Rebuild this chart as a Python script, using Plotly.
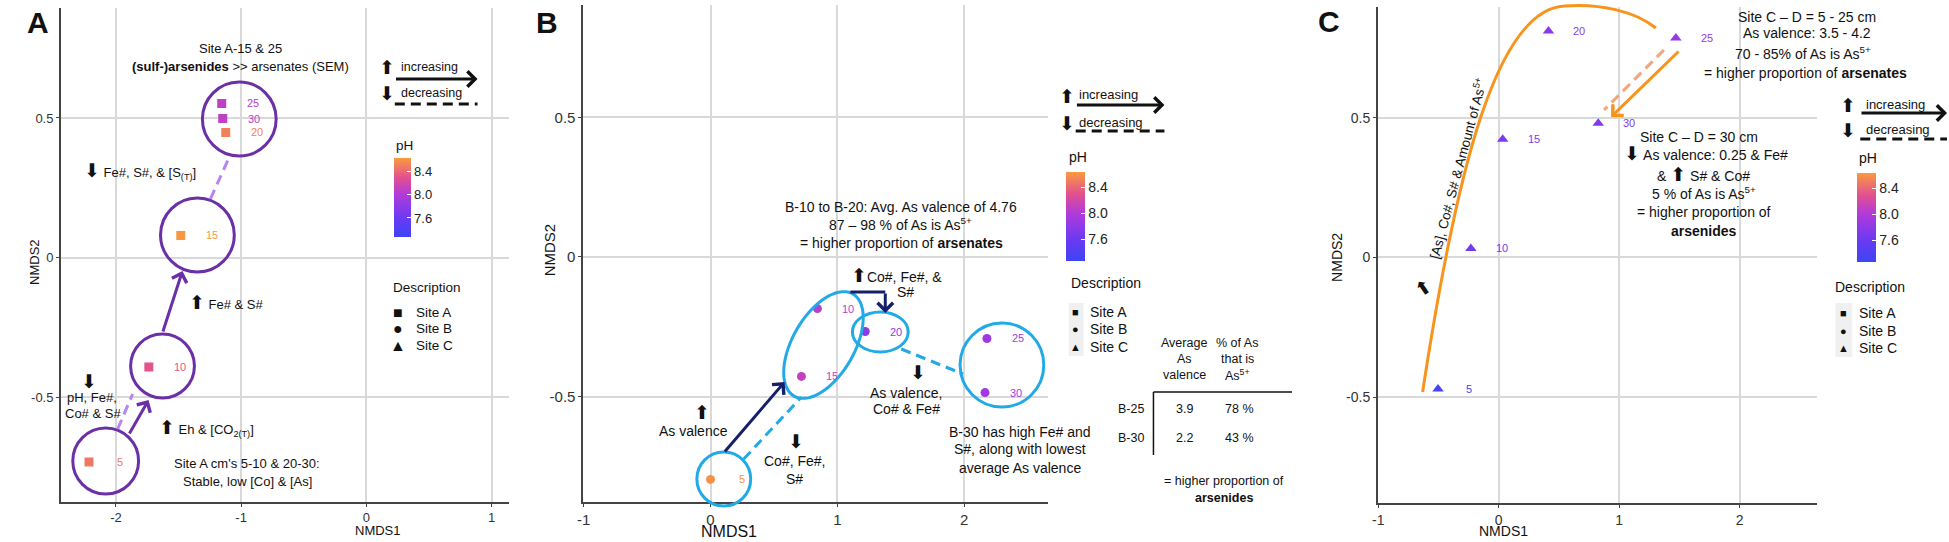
import math
import plotly.graph_objects as go
from plotly.colors import sample_colorscale

W, H = 1949, 542
FONT = "Liberation Sans, Arial, DejaVu Sans, sans-serif"
INK = "#111111"

# ---- values ----
depth_labels = ["5", "10", "15", "20", "25", "30"]

site_a_nmds1 = [-2.215, -1.737, -1.482, -1.123, -1.155, -1.147]
site_a_nmds2 = [-0.733, -0.392, 0.079, 0.448, 0.552, 0.498]
site_a_ph = [8.48, 8.32, 8.62, 8.52, 8.08, 8.08]

site_b_nmds1 = [0.0, 0.843, 0.717, 1.22, 2.18, 2.165]
site_b_nmds2 = [-0.797, -0.185, -0.428, -0.267, -0.292, -0.486]
site_b_ph = [8.6, 8.05, 8.12, 7.8, 7.9, 7.9]

site_c_nmds1 = [-0.504, -0.231, 0.033, 0.413, 1.47, 0.826]
site_c_nmds2 = [-0.471, 0.032, 0.423, 0.81, 0.785, 0.48]
site_c_ph = [7.35, 7.65, 7.72, 7.78, 7.85, 7.72]

ph_min, ph_max = 7.27, 8.64
ph_ticks = [7.6, 8.0, 8.4]
ph_tick_labels = ["7.6", "8.0", "8.4"]

a_xticks = [-2, -1, 0, 1]
bc_xticks = [-1, 0, 1, 2]
x_tick_labels = {-2: "-2", -1: "-1", 0: "0", 1: "1", 2: "2"}
y_ticks = [-0.5, 0, 0.5]
y_tick_labels = ["-0.5", "0", "0.5"]

site_names = ["Site A", "Site B", "Site C"]
site_glyphs = ["■", "●", "▲"]

table_samples = ["B-25", "B-30"]
table_avg_valence = ["3.9", "2.2"]
table_pct_as5 = ["78 %", "43 %"]

# colour scale for pH (blue -> purple -> pink -> orange)
ph_stops = [7.27, 7.6, 8.0, 8.3, 8.64]
ph_colors = ["rgb(61,69,245)", "rgb(106,58,242)", "rgb(176,58,220)",
             "rgb(226,80,143)", "rgb(249,155,62)"]
PH_SCALE = [[(v - ph_min) / (ph_max - ph_min), c] for v, c in zip(ph_stops, ph_colors)]

UP = "<span style='font-size:19px'>⬆</span>"
DOWN = "<span style='font-size:19px'>⬇</span>"


def ph_color(v):
    t = min(max((v - ph_min) / (ph_max - ph_min), 0), 1)
    return sample_colorscale(PH_SCALE, [t])[0]


def px(x):
    return x / W


def py(y):
    return 1 - y / H


annos = []
shapes = []


def txt(x, y, s, size=13, anchor="center", angle=0, color=INK):
    annos.append(dict(x=px(x), y=py(y), xref="paper", yref="paper", text=s,
                      showarrow=False, xanchor=anchor, yanchor="middle",
                      textangle=angle, font=dict(size=size, color=color, family=FONT)))


def line(x0, y0, x1, y1, color, width=3, dash=None):
    shapes.append(dict(type="line", xref="paper", yref="paper",
                       x0=px(x0), y0=py(y0), x1=px(x1), y1=py(y1),
                       line=dict(color=color, width=width, dash=dash)))


def arrow(x0, y0, x1, y1, color, width=3, dash=False):
    if dash:
        line(x0, y0, x1, y1, color, width, "10px,6px")
        L = math.hypot(x1 - x0, y1 - y0)
        ax, ay = -(x1 - x0) / L * 4, -(y1 - y0) / L * 4
    else:
        ax, ay = x0 - x1, y0 - y1
    annos.append(dict(x=px(x1), y=py(y1), xref="paper", yref="paper",
                      ax=ax, ay=ay, axref="pixel", ayref="pixel", text="",
                      showarrow=True, arrowhead=4, arrowsize=1, arrowwidth=width,
                      arrowcolor=color))


def ring(cx, cy, rx, color, ry=None):
    ry = ry or rx
    shapes.append(dict(type="circle", xref="paper", yref="paper",
                       x0=px(cx - rx), x1=px(cx + rx), y0=py(cy + ry), y1=py(cy - ry),
                       line=dict(color=color, width=3)))


def tilted_ring(cx, cy, a, b, deg, color):
    ang = math.radians(deg)
    pts = []
    for k in range(73):
        t = 2 * math.pi * k / 72
        ex, ey = a * math.cos(t), b * math.sin(t)
        x = cx + ex * math.cos(ang) - ey * math.sin(ang)
        y = cy - (ex * math.sin(ang) + ey * math.cos(ang))
        pts.append(f"{px(x):.5f},{py(y):.5f}")
    shapes.append(dict(type="path", xref="paper", yref="paper",
                       path="M" + "L".join(pts) + "Z", line=dict(color=color, width=3)))


def trend_key(gx, tx, x0, x1, y_up, y_solid, y_down, y_dash, size):
    txt(gx, y_up + 1, UP, size)
    txt(tx, y_up, "increasing", size, "left")
    arrow(x0, y_solid, x1, y_solid, INK)
    txt(gx, y_down + 1, DOWN, size)
    txt(tx, y_down, "decreasing", size, "left")
    arrow(x0, y_dash, x1, y_dash, INK, dash=True)


def site_key(tx, ty, sx, lx, rows, sym_size, size, bg=None):
    if bg:
        shapes.append(dict(type="rect", xref="paper", yref="paper", layer="below",
                           x0=px(bg[0]), x1=px(bg[1]), y0=py(bg[3]), y1=py(bg[2]),
                           fillcolor="#F0F0F0", line=dict(width=0)))
    txt(tx, ty, "Description", size, "left")
    for g, name, ry in zip(site_glyphs, site_names, rows):
        txt(sx, ry, g, sym_size)
        txt(lx, ry, name, size, "left")


panels = [
    dict(x=site_a_nmds1, y=site_a_nmds2, ph=site_a_ph, symbol="square", msize=9,
         box=(55, 505, 8, 502), xrange=[-2.44, 1.143], yrange=[-0.876, 0.894],
         xticks=a_xticks, tsize=13, bar=(389, 158, 79, 17, 13)),
    dict(x=site_b_nmds1, y=site_b_nmds2, ph=site_b_ph, symbol="circle", msize=9,
         box=(579, 1045, 5, 502), xrange=[-1.004, 2.66], yrange=[-0.878, 0.903],
         xticks=bc_xticks, tsize=15, bar=(1063, 172, 89, 19, 14)),
    dict(x=site_c_nmds1, y=site_c_nmds2, ph=site_c_ph, symbol="triangle-up", msize=10,
         box=(1376, 1817, 7, 503), xrange=[-1.004, 2.645], yrange=[-0.879, 0.896],
         xticks=bc_xticks, tsize=14, bar=(1857, 173, 89, 19, 14)),
]

fig = go.Figure()
layout = {}
for i, p in enumerate(panels):
    n = "" if i == 0 else str(i + 1)
    l, r, t, b = p["box"]
    bx, by, blen, bth, bfs = p["bar"]
    fig.add_trace(go.Scatter(
        x=p["x"], y=p["y"], mode="markers", xaxis="x" + n, yaxis="y" + n,
        showlegend=False, hoverinfo="skip",
        marker=dict(symbol=p["symbol"], size=p["msize"], color=p["ph"],
                    colorscale=PH_SCALE, cmin=ph_min, cmax=ph_max, line=dict(width=0),
                    showscale=True,
                    colorbar=dict(x=px(bx), xanchor="left", y=py(by), yanchor="top",
                                  len=blen, lenmode="pixels", thickness=bth,
                                  thicknessmode="pixels", outlinewidth=0, xpad=0, ypad=0,
                                  tickvals=ph_ticks, ticktext=ph_tick_labels,
                                  ticks="inside", ticklen=4, tickcolor="white",
                                  tickfont=dict(size=bfs, color="#222", family=FONT)))))
    axis_common = dict(showgrid=True, gridcolor="#D9D9D9", gridwidth=1.5, zeroline=False,
                       showline=True, linecolor="#444", linewidth=1.5, ticks="outside",
                       ticklen=3, tickcolor="#444",
                       tickfont=dict(size=p["tsize"], color="#333", family=FONT))
    layout["xaxis" + n] = dict(domain=[px(l), px(r)], range=p["xrange"], anchor="y" + n,
                               tickvals=p["xticks"],
                               ticktext=[x_tick_labels[v] for v in p["xticks"]], **axis_common)
    layout["yaxis" + n] = dict(domain=[py(b), py(t)], range=p["yrange"], anchor="x" + n,
                               tickvals=y_ticks, ticktext=y_tick_labels, **axis_common)
    for xv, yv, lab, phv in zip(p["x"], p["y"], depth_labels, p["ph"]):
        annos.append(dict(x=xv, y=yv, xref="x" + n, yref="y" + n, text=lab, showarrow=False,
                          xshift=31, font=dict(size=11, color=ph_color(phv), family=FONT)))

# ---- panel A ----
A_RING, A_LIGHT = "#6B2FA6", "#B784F0"
txt(32, 22, "<b>A</b>", 30)
txt(373, 530, "NMDS1", 13)
txt(28, 262, "NMDS2", 13, angle=-90)
for cx, cy, r in [(100, 461, 33), (157, 366, 32), (192, 235, 37), (234, 119, 37)]:
    ring(cx, cy, r, A_RING)
arrow(123, 435, 143, 400, A_RING)
arrow(112, 429, 127, 394, A_LIGHT, dash=True)
arrow(157, 333, 177, 271, A_RING)
arrow(205, 199, 224, 157, A_LIGHT, dash=True)
txt(235, 48, "Site A-15 & 25", 13)
txt(235, 66, "<b>(sulf-)arsenides</b> >> arsenates (SEM)", 13)
txt(76, 171, DOWN + " Fe#, S#, & [S<sub>(T)</sub>]", 13, "left")
txt(182, 302, UP + " Fe# & S#", 13, "left")
txt(83, 381, DOWN, 13)
txt(86, 397, "pH, Fe#,", 13)
txt(87, 413, "Co# & S#", 13)
txt(151, 428, UP + " Eh & [CO<sub>2(T)</sub>]", 13, "left")
txt(242, 463, "Site A cm's 5-10 & 20-30:", 13)
txt(242, 482, "Stable, low [Co] & [As]", 13)
trend_key(382, 394, 390, 473, 67, 79, 93, 104, 12.5)
txt(389, 145, "pH", 13.5, "left")
site_key(386, 287, 393, 409, [312, 328, 345], 16, 13.5)

# ---- panel B ----
B_RING, B_NAVY = "#22AAE6", "#15206A"
txt(543, 22, "<b>B</b>", 30)
txt(725, 531, "NMDS1", 16)
txt(546, 250, "NMDS2", 15, angle=-90)
ring(720, 479, 27, B_RING)
tilted_ring(820, 345, 59, 31, 60, B_RING)
ring(877, 332, 28, B_RING, ry=20)
ring(999, 365, 42, B_RING)
arrow(720, 453, 781, 382, B_NAVY)
arrow(740, 459, 798, 397, B_RING, dash=True)
line(847, 292, 882, 292, B_NAVY)
arrow(882, 292, 882, 313, B_NAVY)
arrow(898, 349, 960, 374, B_RING, dash=True)
txt(898, 207, "B-10 to B-20: Avg. As valence of 4.76", 14)
txt(897, 224, "87 – 98 % of As is As<sup>5+</sup>", 14)
txt(898, 243, "= higher proportion of <b>arsenates</b>", 14)
txt(846, 275, UP + "Co#, Fe#, &", 14, "left")
txt(902, 292, "S#", 14)
txt(698, 412, UP, 13)
txt(690, 431, "As valence", 14)
txt(792, 441, DOWN, 14)
txt(791, 461, "Co#, Fe#,", 14)
txt(791, 479, "S#", 14)
txt(915, 372, DOWN, 14)
txt(903, 393, "As valence,", 14)
txt(903, 409, "Co# & Fe#", 14)
txt(1017, 432, "B-30 has high Fe# and", 14)
txt(1017, 449, "S#, along with lowest", 14)
txt(1017, 468, "average As valence", 14)
trend_key(1064, 1074, 1073, 1162, 95, 105, 122, 131, 13)
txt(1064, 157, "pH", 14, "left")
site_key(1066, 283, 1073, 1085, [312, 329, 347], 11, 14, bg=(1066, 1081, 303, 356))
# small summary table
for hx, lines_ in [(1182, ["Average", "As", "valence"]), (1235, ["% of As", "that is", "As<sup>5+</sup>"])]:
    for k, s in enumerate(lines_):
        txt(hx, 343 + 16 * k, s, 12.5)
for k, (s, v, pct) in enumerate(zip(table_samples, table_avg_valence, table_pct_as5)):
    ry = 409 + 29 * k
    txt(1128, ry, s, 12.5)
    txt(1182, ry, v, 12.5)
    txt(1237, ry, pct, 12.5)
line(1151, 392, 1151, 455, INK, 1.5)
line(1151, 392, 1290, 392, INK, 1.5)
txt(1222, 481, "= higher proportion of", 12.5)
txt(1222, 498, "<b>arsenides</b>", 12.5)

# ---- panel C ----
C_ORANGE, C_LIGHT = "#F7941D", "#F5A57A"
txt(1327, 21, "<b>C</b>", 30)
txt(1502, 531, "NMDS1", 14)
txt(1335, 257, "NMDS2", 14, angle=-90)
curve = [(1421, 392), (1455, 170), (1495, 10), (1563, 6), (1600, 3), (1635, 12), (1655, 28)]
c = [f"{px(x):.5f},{py(y):.5f}" for x, y in curve]
shapes.append(dict(type="path", xref="paper", yref="paper",
                   path=f"M{c[0]} C{c[1]} {c[2]} {c[3]} C{c[4]} {c[5]} {c[6]}",
                   line=dict(color=C_ORANGE, width=3)))
annos.append(dict(x=px(1655), y=py(28), xref="paper", yref="paper", ax=-5, ay=-4,
                  axref="pixel", ayref="pixel", text="", showarrow=True, arrowhead=4,
                  arrowsize=1, arrowwidth=3, arrowcolor=C_ORANGE))
arrow(1679, 50, 1610, 117, C_ORANGE)
arrow(1663, 50, 1603, 110, C_LIGHT, dash=True)
txt(1456, 168, "[As], Co#, S# & Amount of As<sup>5+</sup>", 13.5, angle=-75)
txt(1421, 288, UP, 14, angle=-35)
txt(1807, 17, "Site C – D = 5 - 25 cm", 14)
txt(1807, 33, "As valence: 3.5 - 4.2", 14)
txt(1803, 53, "70 - 85% of As is As<sup>5+</sup>", 14)
txt(1805, 73, "= higher proportion of <b>arsenates</b>", 14)
txt(1698, 137, "Site C – D = 30 cm", 14)
txt(1705, 154, DOWN + " As valence: 0.25 & Fe#", 14)
txt(1703, 174, "& " + UP + " S# & Co#", 14)
txt(1703, 193, "5 % of As is As<sup>5+</sup>", 14)
txt(1703, 212, "= higher proportion of", 14)
txt(1703, 231, "<b>arsenides</b>", 14)
trend_key(1848, 1864, 1860, 1947, 104, 113, 130, 139, 13)
txt(1857, 158, "pH", 14, "left")
site_key(1833, 287, 1843, 1857, [313, 331, 348], 11, 14, bg=(1835, 1852, 303, 357))

fig.update_layout(width=W, height=H, margin=dict(l=0, r=0, t=0, b=0, pad=0),
                  paper_bgcolor="white", plot_bgcolor="white",
                  font=dict(family=FONT, color=INK), annotations=annos, shapes=shapes,
                  **layout)
fig.write_html("out.html", config={"displayModeBar": False},
               post_script="document.body.style.margin='0px';")
